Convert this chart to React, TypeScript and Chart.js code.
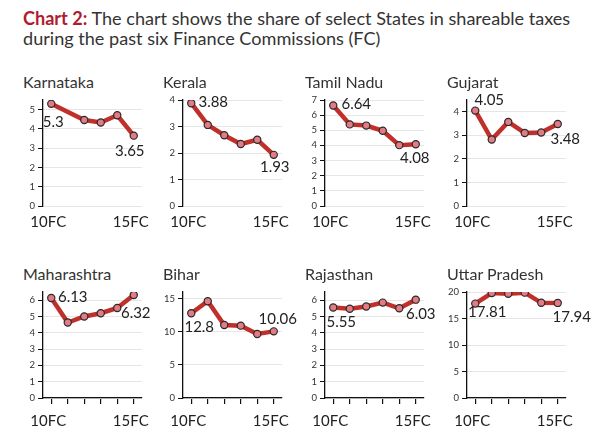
import React, { useEffect, useRef } from "react";
import { Chart, registerables } from "chart.js";
Chart.register(...registerables);

const FONT = "Lato, 'Noto Sans', sans-serif";

const categories = ["10FC", "11FC", "12FC", "13FC", "14FC", "15FC"];
const tickLabels = ["10FC", "", "", "", "", "15FC"];

const karnataka = [5.3, null, 4.46, 4.33, 4.71, 3.65];
const kerala = [3.88, 3.06, 2.67, 2.34, 2.5, 1.93];
const tamilNadu = [6.64, 5.39, 5.31, 4.97, 4.02, 4.08];
const gujarat = [4.05, 2.82, 3.57, 3.1, 3.12, 3.48];
const maharashtra = [6.13, 4.63, 5.0, 5.2, 5.52, 6.32];
const bihar = [12.8, 14.6, 11.03, 10.92, 9.67, 10.06];
const rajasthan = [5.55, 5.47, 5.61, 5.85, 5.5, 6.03];
const uttarPradesh = [17.81, 19.8, 19.68, 19.88, 17.96, 17.94];

const stateNames = ["Karnataka", "Kerala", "Tamil Nadu", "Gujarat", "Maharashtra", "Bihar", "Rajasthan", "Uttar Pradesh"];
const stateValues = [karnataka, kerala, tamilNadu, gujarat, maharashtra, bihar, rajasthan, uttarPradesh];
const yMaxes = [5.5, 4, 7, 4.5, 6.5, 16, 6.5, 20];
const ySteps = [1, 1, 1, 1, 1, 5, 1, 5];

// label placement (style): [dx, dy] of first and last value label centres
const labelOffsets = [
  [[2, 18], [-4, 16]],
  [[22, -1], [1, 12]],
  [[23, -1], [-1, 14]],
  [[14, -10.5], [7.5, 14.7]],
  [[21.5, -0.6], [2, 18.5]],
  [[8, 13.8], [4, -12]],
  [[8, 15], [5, 14]],
  [[12, 9], [14, 14.7]],
];

const AXIS_X = [43, 183, 325, 467];
const PLOT_TOP = [100, 292];
const PLOT_H = 106;
const PLOT_W = 99;
const PAD_TOP = 20;
const PAD_RIGHT = 34;
const Y_W = 30;
const X_H = 34;

const endLabels = {
  id: "endLabels",
  afterDatasetsDraw(chart: any, _args: any, opts: any) {
    const meta = chart.getDatasetMeta(0);
    const data = chart.data.datasets[0].data;
    const ctx = chart.ctx;
    ctx.save();
    ctx.font = `15px ${FONT}`;
    ctx.fillStyle = "#222";
    ctx.textAlign = "center";
    ctx.textBaseline = "middle";
    const idx = [0, data.length - 1];
    idx.forEach((i, k) => {
      const el = meta.data[i];
      const off = opts.offsets[k];
      ctx.fillText(String(data[i]), el.x + off[0], el.y + off[1]);
    });
    ctx.restore();
  },
};

function Panel({ index }: { index: number }) {
  const ref = useRef<HTMLCanvasElement>(null);
  const row = index < 4 ? 0 : 1;
  const col = index % 4;
  const bottomRow = row === 1;
  const left = AXIS_X[col] - Y_W;
  const top = PLOT_TOP[row] - PAD_TOP;
  const width = Y_W + PLOT_W + PAD_RIGHT;
  const height = PAD_TOP + PLOT_H + X_H;

  useEffect(() => {
    const chart = new Chart(ref.current!, {
      type: "line",
      data: {
        labels: categories,
        datasets: [
          {
            data: stateValues[index] as any,
            borderColor: "#c0302b",
            borderWidth: 4.5,
            pointRadius: 3.6,
            pointBackgroundColor: "#e27b85",
            pointBorderColor: "#2a2a2a",
            pointBorderWidth: 1.2,
            spanGaps: true,
            tension: 0,
          },
        ],
      },
      options: {
        responsive: false,
        animation: false,
        devicePixelRatio: 1,
        layout: { padding: { top: PAD_TOP, right: PAD_RIGHT, left: 0, bottom: 0 } },
        plugins: {
          legend: { display: false },
          tooltip: { enabled: false },
          endLabels: { offsets: labelOffsets[index] },
        } as any,
        scales: {
          x: {
            offset: true,
            grid: {
              display: bottomRow,
              drawTicks: bottomRow,
              drawOnChartArea: false,
              tickLength: 6,
              tickColor: "#111",
              color: "#111",
              lineWidth: 1.2,
            },
            border: { display: bottomRow, color: "#111", width: 1.3 },
            ticks: {
              autoSkip: false,
              maxRotation: 0,
              font: { family: FONT, size: 15 },
              color: "#222",
              padding: bottomRow ? 8 : 7,
              labelOffset: -3,
              callback: (_v: any, i: number) => tickLabels[i],
            },
            afterFit: (s: any) => {
              s.height = X_H;
            },
          },
          y: {
            min: 0,
            max: yMaxes[index],
            ticks: {
              stepSize: ySteps[index],
              includeBounds: false,
              font: { family: FONT, size: 9.5 },
              color: "#333",
              padding: 3,
            },
            grid: { color: "#e6e6e6", tickColor: "#111", tickLength: 5, lineWidth: 1 },
            border: { color: "#111", width: 1.3 },
            afterFit: (s: any) => {
              s.width = Y_W;
            },
          },
        },
      },
      plugins: [endLabels as any],
    });
    return () => chart.destroy();
  }, [index]);

  return (
    <>
      <div
        style={{
          position: "absolute",
          left: AXIS_X[col] - 20,
          top: PLOT_TOP[row] - 28,
          font: `16px ${FONT}`,
          lineHeight: "20px",
          color: "#333",
          whiteSpace: "nowrap",
        }}
      >
        {stateNames[index]}
      </div>
      <canvas
        ref={ref}
        width={width}
        height={height}
        style={{ position: "absolute", left, top, width, height }}
      />
    </>
  );
}

export default function App() {
  return (
    <div
      style={{
        position: "absolute",
        left: 0,
        top: 0,
        width: 602,
        height: 448,
        background: "#fff",
        overflow: "hidden",
        fontFamily: FONT,
      }}
    >
      <div
        style={{
          position: "absolute",
          left: 23,
          top: 8,
          font: `18.1px ${FONT}`,
          lineHeight: "20px",
          color: "#333",
          whiteSpace: "nowrap",
        }}
      >
        <span style={{ color: "#b01c2e", fontWeight: 700 }}>Chart 2:</span> The chart shows the share of select States in shareable taxes
        <br />
        during the past six Finance Commissions (FC)
      </div>
      {stateNames.map((_, i) => (
        <Panel key={i} index={i} />
      ))}
    </div>
  );
}
